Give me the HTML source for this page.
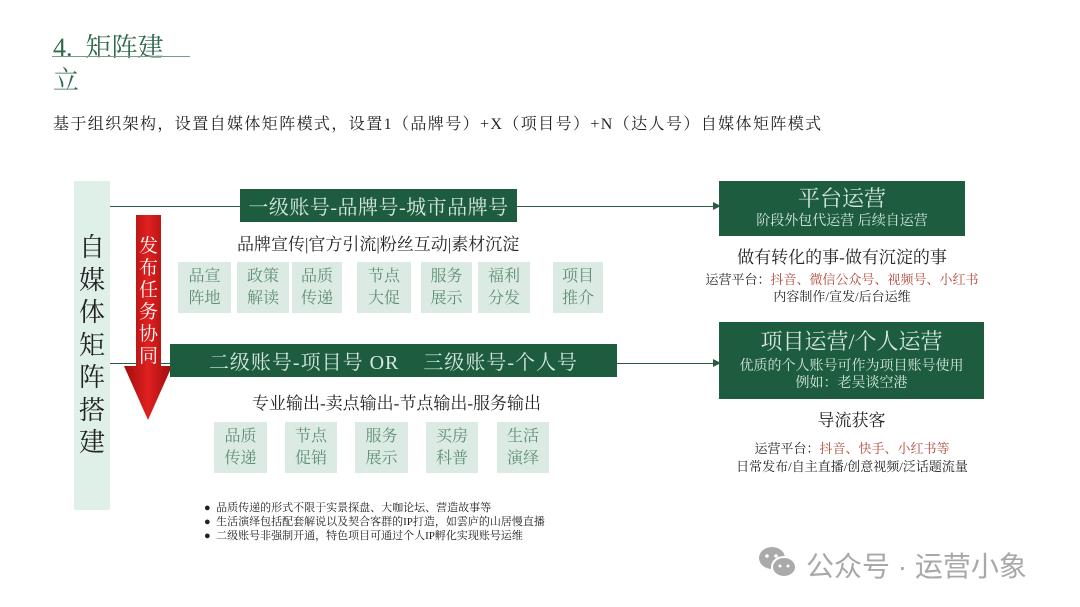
<!DOCTYPE html>
<html><head><meta charset="utf-8"><style>
body{margin:0;width:1080px;height:607px;background:#fff;position:relative;overflow:hidden;font-family:"Liberation Serif","Noto Serif CJK SC",serif;color:#222}
.a{position:absolute;white-space:nowrap}
.bar{position:absolute;background:#1d5c3e;color:#d6e8dd;display:flex;align-items:center;justify-content:center;white-space:nowrap}
.bx{position:absolute;background:#dbeae3;color:#5f8f74;font-size:16px;line-height:22px;text-align:center;display:flex;align-items:center;justify-content:center;height:51px}
.ln{position:absolute;height:1px;background:#2d5a44}
.c{text-align:center}
</style></head><body>
<div class="a" style="left:53px;top:27px;font-size:26px;color:#2f6a4c">4.&nbsp; 矩阵建</div>
<div class="ln" style="left:52px;top:56px;width:138px;background:#7a9a8a"></div>
<div class="a" style="left:53px;top:60px;font-size:26px;color:#2f6a4c">立</div>
<div class="a" style="left:53px;top:111px;font-size:16px;letter-spacing:1.4px">基于组织架构，设置自媒体矩阵模式，设置1（品牌号）+X（项目号）+N（达人号）自媒体矩阵模式</div>

<div class="a" style="left:74px;top:181px;width:36px;height:329px;background:#dff0e8"></div>
<div class="a c" style="left:74px;top:232px;width:36px;font-size:26px;line-height:32.5px;white-space:normal">自媒体矩阵搭建</div>

<div class="ln" style="left:110px;top:206px;width:605px"></div>
<div class="a" style="left:713px;top:202px;width:0;height:0;border-left:8px solid #2d5a44;border-top:4px solid transparent;border-bottom:4px solid transparent"></div>
<div class="ln" style="left:110px;top:363px;width:605px"></div>
<div class="a" style="left:713px;top:359px;width:0;height:0;border-left:8px solid #2d5a44;border-top:4px solid transparent;border-bottom:4px solid transparent"></div>

<svg class="a" style="left:120px;top:212px" width="56" height="210"><defs><linearGradient id="g" x1="0" x2="1"><stop offset="0" stop-color="#9e0c0c"/><stop offset="0.5" stop-color="#e02020"/><stop offset="1" stop-color="#9e0c0c"/></linearGradient></defs><polygon points="16,3 41,3 41,154 52,154 28,208 4,154 16,154" fill="url(#g)"/></svg>
<div class="a c" style="left:136px;top:236px;width:25px;font-size:19px;line-height:22px;color:#fff;white-space:normal">发布任务协同</div>

<div class="bar" style="left:240px;top:189px;width:277px;height:33px;font-size:20px;letter-spacing:0.5px">一级账号-品牌号-城市品牌号</div>
<div class="a" style="left:237px;top:230px;font-size:17px">品牌宣传|官方引流|粉丝互动|素材沉淀</div>
<div class="bx" style="left:178px;top:262px;width:53px">品宣<br>阵地</div>
<div class="bx" style="left:237px;top:262px;width:52px">政策<br>解读</div>
<div class="bx" style="left:292px;top:262px;width:50px">品质<br>传递</div>
<div class="bx" style="left:357px;top:262px;width:54px">节点<br>大促</div>
<div class="bx" style="left:421px;top:262px;width:51px">服务<br>展示</div>
<div class="bx" style="left:478px;top:262px;width:52px">福利<br>分发</div>
<div class="bx" style="left:553px;top:262px;width:50px">项目<br>推介</div>

<div class="bar" style="left:170px;top:344px;width:447px;height:33px;font-size:20px;letter-spacing:1px">二级账号-项目号 OR&nbsp;&nbsp;&nbsp;&nbsp;三级账号-个人号</div>
<div class="a" style="left:252px;top:389px;font-size:17px">专业输出-卖点输出-节点输出-服务输出</div>
<div class="bx" style="left:214px;top:422px;width:53px">品质<br>传递</div>
<div class="bx" style="left:285px;top:422px;width:52px">节点<br>促销</div>
<div class="bx" style="left:355px;top:422px;width:53px">服务<br>展示</div>
<div class="bx" style="left:426px;top:422px;width:52px">买房<br>科普</div>
<div class="bx" style="left:497px;top:422px;width:52px">生活<br>演绎</div>

<div class="a" style="left:204px;top:501px;font-size:11px;line-height:14px">● &nbsp;品质传递的形式不限于实景探盘、大咖论坛、营造故事等<br>● &nbsp;生活演绎包括配套解说以及契合客群的IP打造，如雲庐的山居慢直播<br>● &nbsp;二级账号非强制开通，特色项目可通过个人IP孵化实现账号运维</div>

<div class="bar" style="left:719px;top:181px;width:246px;height:55px;flex-direction:column;line-height:1.1"><div style="font-size:22px">平台运营</div><div style="font-size:14px;margin-top:3px">阶段外包代运营 后续自运营</div></div>
<div class="a c" style="left:719px;top:243px;width:246px;font-size:17px">做有转化的事-做有沉淀的事</div>
<div class="a c" style="left:680px;top:271px;width:324px;font-size:13px;line-height:17px">运营平台：<span style="color:#b0483a">抖音、微信公众号、视频号、小红书</span><br>内容制作/宣发/后台运维</div>

<div class="bar" style="left:719px;top:322px;width:265px;height:77px;flex-direction:column;line-height:1.25"><div style="font-size:22px">项目运营/个人运营</div><div style="font-size:14px;margin-top:2px">优质的个人账号可作为项目账号使用</div><div style="font-size:14px">例如：老吴谈空港</div></div>
<div class="a c" style="left:719px;top:406px;width:265px;font-size:17px">导流获客</div>
<div class="a c" style="left:690px;top:440px;width:324px;font-size:13px;line-height:18px">运营平台：<span style="color:#b0483a">抖音、快手、小红书等</span><br>日常发布/自主直播/创意视频/泛话题流量</div>

<svg class="a" style="left:757px;top:545px" width="42" height="36"><ellipse cx="15" cy="13" rx="13" ry="11" fill="#aaa"/><ellipse cx="27" cy="22" rx="12" ry="10" fill="#aaa" stroke="#fff" stroke-width="2"/><circle cx="10" cy="11" r="1.8" fill="#fff"/><circle cx="19" cy="11" r="1.8" fill="#fff"/><circle cx="23" cy="21" r="1.5" fill="#fff"/><circle cx="31" cy="21" r="1.5" fill="#fff"/></svg>
<div class="a" style="left:806px;top:545px;font-size:28px;color:#a8a8a8;font-family:'Liberation Sans','Noto Sans CJK SC',sans-serif">公众号 · 运营小象</div>
</body></html>
